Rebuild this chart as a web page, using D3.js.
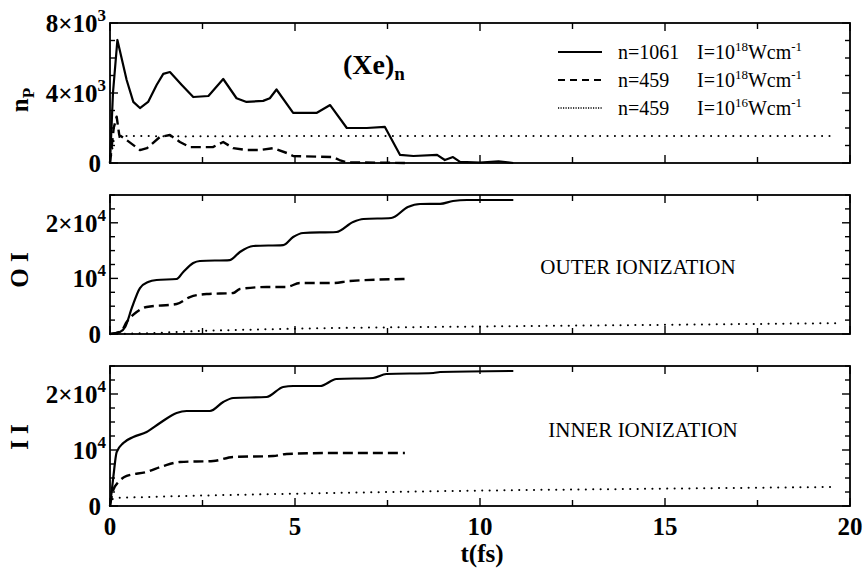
<!DOCTYPE html>
<html><head><meta charset="utf-8">
<script src="https://cdn.jsdelivr.net/npm/d3@7"></script>
<style>body{margin:0;background:#fff}svg{display:block}</style>
</head><body>
<script>
// ---- data ----
const xTicksMajor = [0, 5, 10, 15, 20];
// panel 1 : n_P
const npSolidT = [0,0.08,0.2,0.45,0.63,0.81,1.03,1.26,1.44,1.62,1.94,2.25,2.66,3.06,3.42,3.69,4.14,4.32,4.5,4.95,5.58,5.95,6.4,6.94,7.43,7.84,8.2,8.84,9.05,9.27,9.46,10.0,10.5,10.9];
const npSolidV = [0,4000,7030,4740,3490,3140,3490,4460,5090,5200,4460,3770,3830,4800,3700,3490,3550,3700,4200,2860,2860,3310,2000,2000,2060,460,400,460,170,340,60,30,100,0];
const npDashT = [0,0.1,0.18,0.25,0.45,0.81,1.0,1.35,1.62,1.89,2.16,2.78,3.06,3.33,3.7,4.05,4.41,4.78,4.95,6.03,6.2,6.4,7.97];
const npDashV = [0,2000,2650,1600,1310,740,850,1490,1600,1200,910,910,1200,850,740,740,850,570,400,340,170,40,0];
const npDotT = [0,0.1,0.3,2,5,10,15,19.6];
const npDotV = [0,1300,1550,1520,1540,1540,1540,1540];
// panel 2 : outer ionization
const oiSolidT = [0,0.27,0.41,0.59,0.81,1.03,1.26,1.8,1.98,2.25,2.43,3.24,3.51,3.87,4.68,4.95,5.22,6.12,6.57,6.85,7.6,8.05,8.38,8.92,9.27,9.65,10.9];
const oiSolidV = [0,360,1260,4680,8270,9350,9710,9890,11150,12770,13130,13300,14750,15830,16000,17450,18170,18350,20150,20680,20860,22840,23380,23400,23920,24100,24100];
const oiDashT = [0,0.3,0.45,0.72,0.99,1.8,2.16,2.61,3.33,3.51,4.23,4.77,5.13,6.03,6.48,7.97];
const oiDashV = [0,500,2160,3960,4860,5400,6650,7190,7370,8090,8450,8450,9170,9170,9530,9890];
const oiDotT = [0,1,2.5,5,10,15,19.6];
const oiDotV = [0,150,550,950,1350,1650,1950];
// panel 3 : inner ionization
const iiSolidT = [0,0.09,0.18,0.36,0.63,0.99,1.35,1.8,2.07,2.7,3.06,3.33,4.23,4.68,4.95,5.68,6.12,7.11,7.47,8.74,8.92,10.9];
const iiSolidV = [0,5180,9640,11250,12320,13210,14820,16610,16960,16960,18570,19290,19460,21250,21430,21430,22680,22860,23570,23750,23930,24110];
const iiDashT = [0,0.09,0.23,0.45,0.99,1.44,1.89,2.79,3.33,4.41,4.77,6.03,7.97];
const iiDashV = [0,2860,4290,5360,6070,7140,7860,8040,8750,8930,9290,9460,9460];
const iiDotT = [0,0.1,1,5,10,15,19.6];
const iiDotV = [0,1400,1600,2200,2750,3100,3400];
// tick labels
const npTickVals = [0, 4000, 8000];
const npTickLabels = [["0",""],["4×10","3"],["8×10","3"]];
const ionTickVals = [0, 10000, 20000];
const ionTickLabels = [["0",""],["10","4"],["2×10","4"]];
const legendLabels = [["n=1061","18"],["n=459","18"],["n=459","16"]];

// ---- drawing ----
const W = 865, H = 574;
const svg = d3.select("body").append("svg").attr("width", W).attr("height", H);
const FONT = "'Liberation Serif','Times New Roman',serif";
const x = d3.scaleLinear().domain([0, 20]).range([110, 850]);

const styles = {
  solid: {w: 2.2, dash: null},
  dash: {w: 2.4, dash: "10 5"},
  dot: {w: 2, dash: "0.1 7.3"}
};

function panel(top, bottom, yMax, minorStep, majorVals, labels, title, series, curve) {
  const y = d3.scaleLinear().domain([0, yMax]).range([bottom, top]);
  const g = svg.append("g");
  const xt = d3.range(0, 20.01, 2.5);
  xt.forEach(v => {
    const major = v % 5 === 0;
    const L = major ? 8 : 6;
    g.append("line").attr("x1", x(v)).attr("x2", x(v)).attr("y1", bottom).attr("y2", bottom - L).attr("stroke", "#000").attr("stroke-width", 1.4);
    g.append("line").attr("x1", x(v)).attr("x2", x(v)).attr("y1", top).attr("y2", top + L).attr("stroke", "#000").attr("stroke-width", 1.4);
  });
  const yt = d3.range(0, yMax + 1, minorStep);
  yt.forEach(v => {
    const major = majorVals.includes(v);
    const L = major ? 8 : 5;
    g.append("line").attr("x1", 110).attr("x2", 110 + L).attr("y1", y(v)).attr("y2", y(v)).attr("stroke", "#000").attr("stroke-width", 1.4);
    g.append("line").attr("x1", 850).attr("x2", 850 - L).attr("y1", y(v)).attr("y2", y(v)).attr("stroke", "#000").attr("stroke-width", 1.4);
  });
  series.forEach(s => {
    const data = s.t.map((t, i) => [t, s.v[i]]);
    const line = d3.line().x(d => x(d[0])).y(d => y(d[1])).curve(curve);
    const st = styles[s.style];
    g.append("path").attr("d", line(data)).attr("fill", "none").attr("stroke", "#000")
      .attr("stroke-width", st.w).attr("stroke-dasharray", st.dash)
      .attr("stroke-linecap", s.style === "dot" ? "round" : "butt").attr("stroke-linejoin", "round");
  });
  g.append("rect").attr("x", 110).attr("y", top).attr("width", 740).attr("height", bottom - top)
    .attr("fill", "none").attr("stroke", "#000").attr("stroke-width", 1.8);
  majorVals.forEach((v, i) => {
    const t = g.append("text").attr("x", labels[i][1] ? 106 : 101).attr("y", y(v) + 9)
      .attr("text-anchor", "end").attr("font-family", FONT).attr("font-weight", "bold").attr("font-size", 25);
    t.append("tspan").text(labels[i][0]);
    if (labels[i][1]) t.append("tspan").attr("dy", -11).attr("font-size", 17).text(labels[i][1]);
  });
  const tt = g.append("text").attr("transform", `translate(28,${title.cy}) rotate(-90)`)
    .attr("text-anchor", "middle").attr("font-family", FONT).attr("font-weight", "bold").attr("font-size", 25);
  tt.append("tspan").text(title.main);
  if (title.sub) tt.append("tspan").attr("dy", 6).attr("font-size", 17).text(title.sub);
  return y;
}

panel(23, 163, 8000, 1000, npTickVals, npTickLabels, {main: "n", sub: "P", cy: 100}, [
  {t: npSolidT, v: npSolidV, style: "solid"},
  {t: npDashT, v: npDashV, style: "dash"},
  {t: npDotT, v: npDotV, style: "dot"}
], d3.curveLinear);

panel(195, 334, 25000, 2500, ionTickVals, ionTickLabels, {main: "O I", cy: 270}, [
  {t: oiSolidT, v: oiSolidV, style: "solid"},
  {t: oiDashT, v: oiDashV, style: "dash"},
  {t: oiDotT, v: oiDotV, style: "dot"}
], d3.curveMonotoneX);

panel(366, 506, 25000, 2500, ionTickVals, ionTickLabels, {main: "I I", cy: 437}, [
  {t: iiSolidT, v: iiSolidV, style: "solid"},
  {t: iiDashT, v: iiDashV, style: "dash"},
  {t: iiDotT, v: iiDotV, style: "dot"}
], d3.curveMonotoneX);

xTicksMajor.forEach(v => {
  svg.append("text").attr("x", x(v)).attr("y", 535).attr("text-anchor", "middle")
    .attr("font-family", FONT).attr("font-weight", "bold").attr("font-size", 25).text(v);
});
svg.append("text").attr("x", 482).attr("y", 562).attr("text-anchor", "middle")
  .attr("font-family", FONT).attr("font-weight", "bold").attr("font-size", 25).text("t(fs)");

const xe = svg.append("text").attr("x", 343).attr("y", 74).attr("font-family", FONT).attr("font-weight", "bold").attr("font-size", 28);
xe.append("tspan").text("(Xe)");
xe.append("tspan").attr("dy", 6).attr("font-size", 19).text("n");

const legStyles = [{dash: null, w: 2}, {dash: "7 5", w: 2.2}, {dash: "1.2 1.3", w: 1.6}];
[52, 80, 108].forEach((yy, i) => {
  svg.append("line").attr("x1", 558).attr("x2", 602).attr("y1", yy).attr("y2", yy)
    .attr("stroke", "#000").attr("stroke-width", legStyles[i].w).attr("stroke-dasharray", legStyles[i].dash);
  svg.append("text").attr("x", 618).attr("y", yy + 7).attr("font-family", FONT).attr("font-size", 20).text(legendLabels[i][0]);
  const t = svg.append("text").attr("x", 697).attr("y", yy + 7).attr("font-family", FONT).attr("font-size", 20);
  t.append("tspan").text("I=10");
  t.append("tspan").attr("dy", -8).attr("font-size", 13).text(legendLabels[i][1]);
  t.append("tspan").attr("dy", 8).text("Wcm");
  t.append("tspan").attr("dy", -8).attr("font-size", 13).text("-1");
});

svg.append("text").attr("x", 638).attr("y", 274).attr("text-anchor", "middle").attr("font-family", FONT).attr("font-size", 21).text("OUTER IONIZATION");
svg.append("text").attr("x", 643).attr("y", 437).attr("text-anchor", "middle").attr("font-family", FONT).attr("font-size", 21).text("INNER IONIZATION");
</script>
</body></html>
